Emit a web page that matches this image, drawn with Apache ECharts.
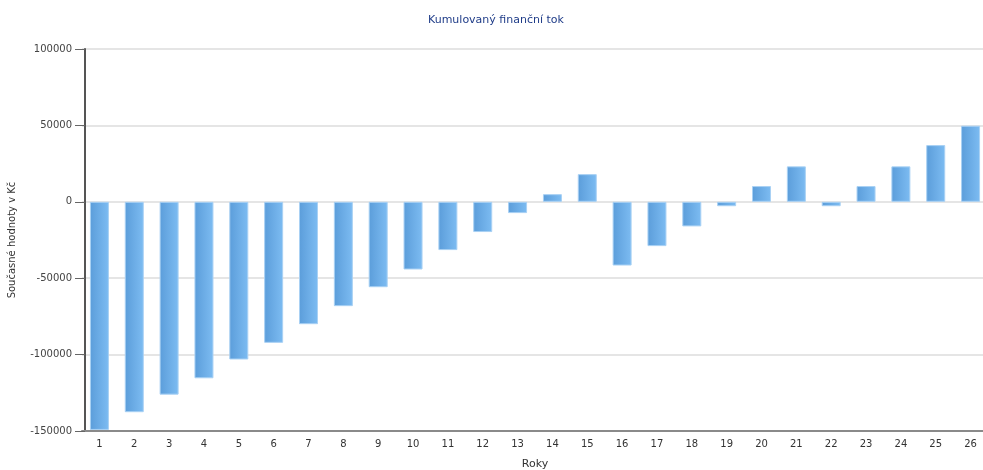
<!DOCTYPE html>
<html>
<head>
<meta charset="utf-8">
<title>Kumulovaný finanční tok</title>
<script src="https://cdn.jsdelivr.net/npm/echarts@6/dist/echarts.min.js"></script>
<style>
  html, body { margin: 0; padding: 0; background: #fff; overflow: hidden; }
  #chart { width: 983px; height: 470px; }
</style>
</head>
<body>
<div id="chart"></div>
<script>
// roky 1..26
const years = ['1', '2', '3', '4', '5', '6', '7', '8', '9', '10', '11', '12', '13',
  '14', '15', '16', '17', '18', '19', '20', '21', '22', '23', '24', '25', '26']
// kumulovany tok v Kc
const cumulative = [-149300, -137700, -126200, -115500, -103200, -92300, -80100, -68300, -55900,
  -44300, -31600, -19800, -7400, 5000, 18100, -41700, -29000, -16100, -2900,
  10300, 23200, -2900, 10300, 23200, 37100, 49800]
const yMin = -150000
const yMax = 100000
const yStep = 50000

const font = 'DejaVu Sans'
const chart = echarts.init(document.getElementById('chart'))

const option = {
  animation: false,
  title: {
    text: 'Kumulovaný finanční tok',
    left: 423,
    top: 10,
    textStyle: { fontFamily: font, fontSize: 11, fontWeight: 'normal', color: '#1f3c88' }
  },
  // the plot runs a few px past the right edge, like the original
  grid: { left: 82, top: 49, width: 906, height: 382, outerBoundsMode: 'none' },
  xAxis: {
    type: 'category',
    data: years,
    name: 'Roky',
    nameLocation: 'middle',
    nameGap: 28,
    nameTextStyle: { fontFamily: font, fontSize: 11, color: '#333' },
    axisLine: { onZero: false, lineStyle: { color: '#8a8a8a', width: 2 } },
    axisTick: { alignWithLabel: true, length: 5, lineStyle: { color: '#555' } },
    axisLabel: { fontFamily: font, fontSize: 10, color: '#333', margin: 8 }
  },
  yAxis: {
    type: 'value',
    min: yMin,
    max: yMax,
    interval: yStep,
    offset: -3,
    name: 'Současné hodnoty v Kč',
    nameLocation: 'middle',
    nameGap: 68,
    nameTextStyle: { fontFamily: font, fontSize: 10, color: '#333' },
    axisLine: { show: true, lineStyle: { color: '#555', width: 2 } },
    axisTick: { show: true, length: 10, lineStyle: { color: '#666' } },
    axisLabel: {
      fontFamily: font, fontSize: 10, color: '#444', margin: 13,
      formatter: v => String(v)
    },
    splitLine: { lineStyle: { color: '#dcdcdc', width: 1.5 } }
  },
  series: [
    {
      type: 'bar',
      data: cumulative,
      barWidth: 19,
      itemStyle: {
        color: new echarts.graphic.LinearGradient(0, 0, 1, 0, [
          { offset: 0, color: '#5b9dda' },
          { offset: 1, color: '#7dbcf2' }
        ]),
        borderColor: '#a9d1f4',
        borderWidth: 1
      }
    }
  ]
}

chart.setOption(option)
</script>
</body>
</html>
